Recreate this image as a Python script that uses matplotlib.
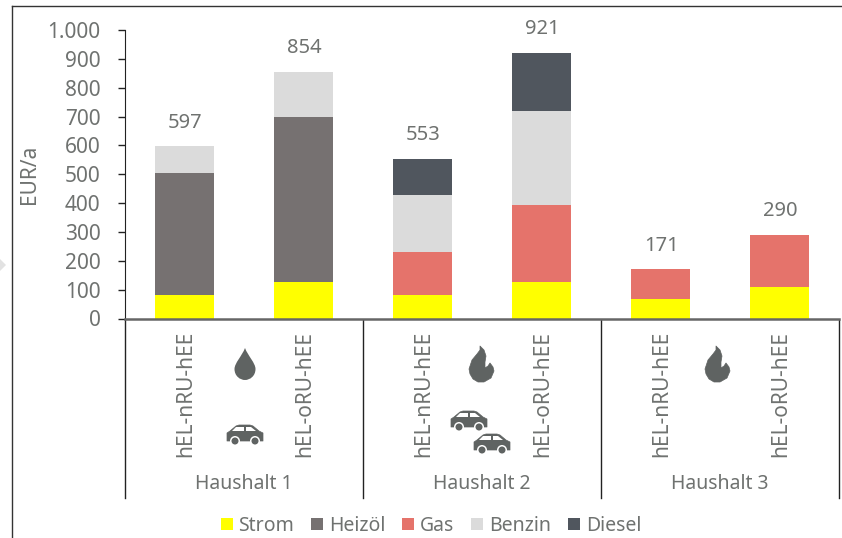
import matplotlib
matplotlib.use("Agg")
import matplotlib.pyplot as plt
from matplotlib.path import Path
from matplotlib.patches import PathPatch, Circle, Polygon

plt.rcParams['font.family'] = ['Noto Sans', 'DejaVu Sans']

categories = ['hEL-nRU-hEE', 'hEL-oRU-hEE'] * 3
groups = ['Haushalt 1', 'Haushalt 2', 'Haushalt 3']
totals = [597, 854, 553, 921, 171, 290]
strom = [80, 128, 80, 128, 68, 108]
heizoel = [425, 572, 0, 0, 0, 0]
gas = [0, 0, 152, 264, 103, 182]
benzin = [92, 154, 195, 326, 0, 0]
diesel = [0, 0, 126, 203, 0, 0]
yticks = [0, 100, 200, 300, 400, 500, 600, 700, 800, 900, 1000]
ytick_labels = ['0', '100', '200', '300', '400', '500', '600', '700', '800', '900', '1.000']

color_text = '#6f7270'
color_icon = '#5f6362'
W, H = 842, 538

fig = plt.figure(figsize=(W / 100, H / 100), dpi=100)

# main axes, placed by pixels
left, right, top, bottom = 125, 839, 30, 318.5
ax = fig.add_axes([left / W, 1 - bottom / H, (right - left) / W, (bottom - top) / H])

series = [('Strom', strom, '#ffff00'), ('Heizöl', heizoel, '#767171'), ('Gas', gas, '#e5736b'),
          ('Benzin', benzin, '#dbdbdb'), ('Diesel', diesel, '#50565e')]
xpos = [i + 0.5 for i in range(6)]
base = [0] * 6
for name, vals, col in series:
    ax.bar(xpos, vals, 0.5, bottom=base, color=col, label=name)
    base = [b + v for b, v in zip(base, vals)]

for x, t in zip(xpos, totals):
    ax.text(x + 0.005, t + 82, str(t), ha='center', va='center', fontsize=14.5, color=color_text, clip_on=False)

ax.set_xlim(0, 6)
ax.set_ylim(0, 1000)
ax.set_yticks(yticks)
ax.set_yticklabels(ytick_labels, fontsize=15, color=color_text)
ax.set_xticks([])
ax.tick_params(axis='y', length=5, width=1, color='#222222', pad=12.5)
ax.set_ylabel('EUR/a', fontsize=15, color=color_text)
ax.yaxis.set_label_coords((40 - left) / (right - left), 0.5)
ax.spines['top'].set_visible(False)
ax.spines['right'].set_visible(False)
ax.spines['left'].set_color('#222222')
ax.spines['bottom'].set_color('#666666')
ax.spines['bottom'].set_linewidth(1.8)

# overlay in pixel coordinates for category area, frame and icons
ov = fig.add_axes([0, 0, 1, 1], zorder=-1)
ov.set_xlim(0, W)
ov.set_ylim(H, 0)
ov.axis('off')

for i, x in enumerate(xpos):
    px = left + x * (right - left) / 6
    ov.text(px + 1, 394, categories[i], rotation=90, ha='center', va='center', fontsize=15, color=color_text)
for i, g in enumerate(groups):
    px = left + (i * 2 + 1) * (right - left) / 6
    ov.text(px, 484, g, ha='center', va='center', fontsize=14, color=color_text)
for i in range(4):
    px = left + i * 2 * (right - left) / 6
    ov.plot([px, px], [320, 498], color='#222222', lw=1)

# outer frame of the screenshot
ov.plot([11.5, 11.5], [6, 538], color='#333333', lw=1)
ov.plot([11.5, 842], [6, 6], color='#333333', lw=1)
ov.add_patch(Polygon([[0, 259], [6, 265], [0, 271]], color='#e2e2e2', lw=0))


def drop(cx, cy):
    verts = [(cx, cy - 16), (cx - 3, cy - 8), (cx - 10.5, cy - 1), (cx - 10.5, cy + 5),
             (cx - 10.5, cy + 12), (cx - 5, cy + 16), (cx, cy + 16),
             (cx + 5, cy + 16), (cx + 10.5, cy + 12), (cx + 10.5, cy + 5),
             (cx + 10.5, cy - 1), (cx + 3, cy - 8), (cx, cy - 16)]
    codes = [Path.MOVETO] + [Path.CURVE4] * 12
    ov.add_patch(PathPatch(Path(verts, codes), fc=color_icon, ec='none'))


def flame(cx, cy):
    pts = [(-2, -19), (2, -15), (4, -9), (3, -3), (3, 3), (6, 1), (8, -2), (11, 2), (12, 6), (9, 13), (2, 17),
           (-4, 17), (-9, 14), (-12, 9), (-13, 4), (-10, -5), (-5, -11), (-2, -15)]
    ov.add_patch(Polygon([(cx + a, cy + b) for a, b in pts], closed=True, fc=color_icon, ec=color_icon,
                         lw=0.5, joinstyle='round'))


def car(cx, cy):
    body = [(-18, 6), (-18, -2), (-15, -4), (-9, -9), (-6, -10), (5, -10), (8, -9), (14, -4), (18, -2), (18, 6)]
    ov.add_patch(Polygon([(cx + a, cy + b) for a, b in body], closed=True, fc=color_icon, ec=color_icon,
                         lw=0.5, joinstyle='round'))
    ov.add_patch(Polygon([(cx + a, cy + b) for a, b in [(-9, -8), (-1, -8), (-1, -4), (-13, -4)]], fc='white', ec='none'))
    ov.add_patch(Polygon([(cx + a, cy + b) for a, b in [(1, -8), (6, -8), (11, -4), (1, -4)]], fc='white', ec='none'))
    for a in (-10, 10):
        ov.add_patch(Circle((cx + a, cy + 6), 5, fc='white', ec='none'))
        ov.add_patch(Circle((cx + a, cy + 6), 3.5, fc=color_icon, ec='none'))


drop(245, 364)
car(245, 435)
flame(482, 365)
car(469, 421)
car(492, 444)
flame(718, 365)

handles, labels = ax.get_legend_handles_labels()
fig.legend(handles, labels, loc='center', bbox_to_anchor=(431 / W, 1 - 526 / H), ncol=5, frameon=False,
           fontsize=14, labelcolor=color_text, handlelength=0.62, handleheight=0.62, handletextpad=0.3,
           columnspacing=0.87)

fig.savefig('out.png', dpi=100)
